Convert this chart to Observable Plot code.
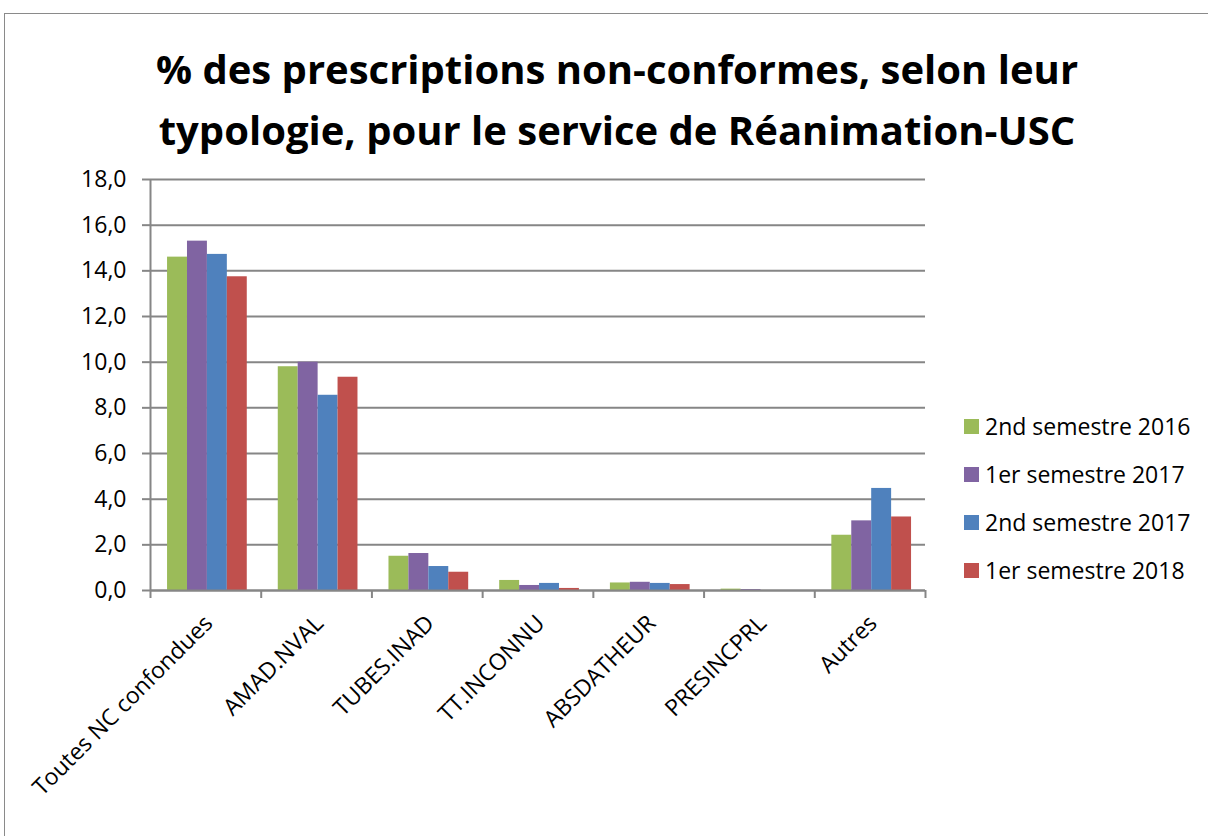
<!DOCTYPE html>
<html>
<head>
<meta charset="utf-8">
<script src="https://cdn.jsdelivr.net/npm/d3@7"></script>
<script src="https://cdn.jsdelivr.net/npm/@observablehq/plot@0.6"></script>
<style>
  html, body { margin: 0; padding: 0; background: #fff; overflow: hidden; }
  #wrap { position: relative; width: 1208px; height: 836px; font-family: "Open Sans", sans-serif; }
  #border { position: absolute; left: 4px; top: 13px; width: 1300px; height: 900px; border: 1.5px solid #8a8a8a; box-sizing: border-box; }
  #title { position: absolute; left: 0; top: 38px; width: 1234px; text-align: center; font-weight: 700; font-size: 40px; line-height: 61px; color: #000; }
  #chart { position: absolute; left: 0; top: 160px; }
  #legend { position: absolute; left: 964px; top: 402px; font-size: 23px; color: #000; }
  .item { height: 48px; line-height: 48px; display: flex; align-items: center; white-space: nowrap; }
  .sw { width: 15px; height: 15px; margin-right: 6px; flex: none; }
</style>
</head>
<body>
<div id="wrap">
  <div id="border"></div>
  <div id="title">% des prescriptions non-conformes, selon leur<br>typologie, pour le service de Réanimation-USC</div>
  <div id="chart"></div>
  <div id="legend"></div>
</div>
<script>
const categories = ["Toutes NC confondues", "AMAD.NVAL", "TUBES.INAD", "TT.INCONNU", "ABSDATHEUR", "PRESINCPRL", "Autres"];
const seriesNames = ["2nd semestre 2016", "1er semestre 2017", "2nd semestre 2017", "1er semestre 2018"];
const seriesColors = ["#9BBB59", "#8064A2", "#4F81BD", "#C0504D"];
const s2ndSem2016 = [14.6, 9.8, 1.5, 0.44, 0.33, 0.06, 2.42];
const s1erSem2017 = [15.3, 10.0, 1.62, 0.22, 0.36, 0.04, 3.05];
const s2ndSem2017 = [14.72, 8.55, 1.05, 0.31, 0.31, 0.0, 4.47];
const s1erSem2018 = [13.74, 9.34, 0.8, 0.09, 0.26, 0.0, 3.22];
const yTicks = [0, 2, 4, 6, 8, 10, 12, 14, 16, 18];

const seriesValues = [s2ndSem2016, s1erSem2017, s2ndSem2017, s1erSem2018];
const groupInset = 0.154, barWidth = 0.18;
const rows = [];
seriesValues.forEach((vals, si) => {
  vals.forEach((v, ci) => {
    rows.push({category: categories[ci], series: seriesNames[si], ci, si, value: v});
  });
});

const fmt = d => d.toFixed(1).replace(".", ",");
const gray = "#868686";

const chart = Plot.plot({
  width: 1208,
  height: 676,
  marginTop: 19,
  marginBottom: 246,
  marginLeft: 150,
  marginRight: 283,
  style: {fontFamily: "Open Sans, sans-serif", fontSize: "23px", color: "#000", background: "transparent"},
  x: {type: "linear", domain: [0, categories.length], axis: null},
  y: {domain: [0, 18], axis: null},
  color: {domain: seriesNames, range: seriesColors},
  marks: [
    Plot.gridY(yTicks, {stroke: gray, strokeOpacity: 1, strokeWidth: 2}),
    Plot.rectY(rows, {
      x1: d => d.ci + groupInset + d.si * barWidth,
      x2: d => d.ci + groupInset + (d.si + 1) * barWidth,
      y1: 0,
      y2: "value",
      fill: "series"
    }),
    Plot.ruleX([0], {stroke: gray, strokeWidth: 2}),
    Plot.ruleY([0], {stroke: gray, strokeWidth: 2}),
    Plot.axisY({ticks: yTicks, tickSize: 8, tickPadding: 16, tickFormat: fmt, stroke: gray, strokeOpacity: 1, strokeWidth: 2, fontSize: 23, label: null}),
    Plot.axisX({ticks: d3.range(categories.length + 1), tickSize: 8, tickFormat: () => "", stroke: gray, strokeOpacity: 1, strokeWidth: 2, label: null}),
    Plot.text(categories, {
      x: (d, i) => i + 0.5,
      y: 0,
      text: d => d,
      rotate: -45,
      textAnchor: "end",
      lineAnchor: "middle",
      dx: 3,
      dy: 29,
      fontSize: 23,
      fill: "#000"
    })
  ]
});
document.getElementById("chart").appendChild(chart);

const legend = document.getElementById("legend");
seriesNames.forEach((name, i) => {
  const item = document.createElement("div");
  item.className = "item";
  const sw = document.createElement("span");
  sw.className = "sw";
  sw.style.background = seriesColors[i];
  const label = document.createElement("span");
  label.textContent = name;
  item.appendChild(sw);
  item.appendChild(label);
  legend.appendChild(item);
});
</script>
</body>
</html>
